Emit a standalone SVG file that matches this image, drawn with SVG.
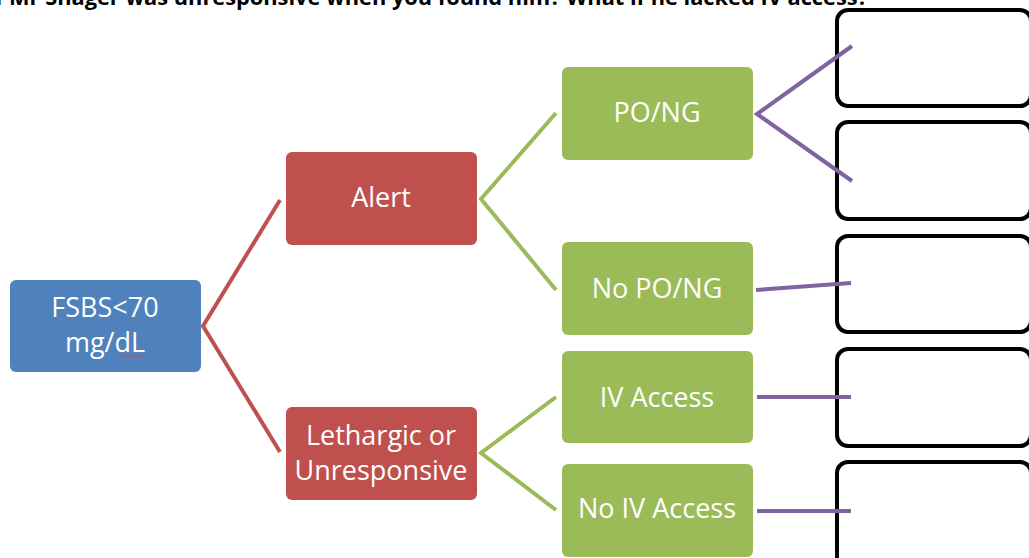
<svg xmlns="http://www.w3.org/2000/svg" width="1029" height="558" viewBox="0 0 1029 558">
<style>
.lbl{font-family:"Open Sans","Liberation Sans",sans-serif;font-size:27px;fill:#ffffff;text-anchor:middle}
.blue{fill:#4F81BD}
.red{fill:#C0504D}
.green{fill:#9BBB59}
.empty{fill:#ffffff;stroke:#000000;stroke-width:4}
.cr{stroke:#C0504D;stroke-width:4;fill:none}
.cg{stroke:#9BBB59;stroke-width:4;fill:none}
.cp{stroke:#8064A2;stroke-width:4;fill:none}
.title{font-family:"Open Sans","Liberation Sans",sans-serif;font-size:21.8px;font-weight:bold;fill:#000000;text-anchor:end}
</style>
<rect width="1029" height="558" fill="#ffffff"/>
<text class="title" x="868" y="4.5">What if Mr Shager was unresponsive when you found him? What if he lacked IV access?</text>

<g id="out1"><rect class="empty" x="837" y="10" width="194" height="96" rx="11"/></g>
<g id="out2"><rect class="empty" x="837" y="122" width="194" height="97" rx="11"/></g>
<g id="out3"><rect class="empty" x="837" y="236" width="194" height="96" rx="11"/></g>
<g id="out4"><rect class="empty" x="837" y="349" width="194" height="97" rx="11"/></g>
<g id="out5"><rect class="empty" x="837" y="462" width="194" height="110" rx="11"/></g>

<g id="connectors">
<polyline class="cr" points="280,200 203,326 280,452"/>
<polyline class="cg" points="556,113 481,199 556,290"/>
<polyline class="cg" points="556,397 481,453 556,510"/>
<polyline class="cp" points="852,46 757,114 852,181"/>
<line class="cp" x1="756" y1="290" x2="851" y2="283"/>
<line class="cp" x1="757" y1="397" x2="851" y2="397"/>
<line class="cp" x1="757" y1="511" x2="851" y2="511"/>
</g>

<g id="fsbs">
<rect class="blue" x="10" y="280" width="191" height="92" rx="6"/>
<text class="lbl" x="105" y="317">FSBS&lt;70</text>
<text class="lbl" x="105" y="352">mg/dL</text>
<path d="M117,356 q2,-2 4,0 t4,0 t4,0 t4,0 t4,0 t4,0 t4,0" stroke="#C0504D" stroke-width="1" fill="none"/>
</g>
<g id="alert">
<rect class="red" x="286" y="152" width="191" height="93" rx="6"/>
<text class="lbl" x="381" y="207">Alert</text>
</g>
<g id="lethargic">
<rect class="red" x="286" y="407" width="191" height="93" rx="6"/>
<text class="lbl" x="381" y="445">Lethargic or</text>
<text class="lbl" x="381" y="480">Unresponsive</text>
</g>
<g id="pong">
<rect class="green" x="562" y="67" width="191" height="93" rx="6"/>
<text class="lbl" x="657" y="122">PO/NG</text>
</g>
<g id="nopong">
<rect class="green" x="562" y="242" width="191" height="93" rx="6"/>
<text class="lbl" x="657" y="298">No PO/NG</text>
</g>
<g id="iv">
<rect class="green" x="562" y="351" width="191" height="92" rx="6"/>
<text class="lbl" x="657" y="407">IV Access</text>
</g>
<g id="noiv">
<rect class="green" x="562" y="464" width="191" height="93" rx="6"/>
<text class="lbl" x="657" y="518">No IV Access</text>
</g>
</svg>
